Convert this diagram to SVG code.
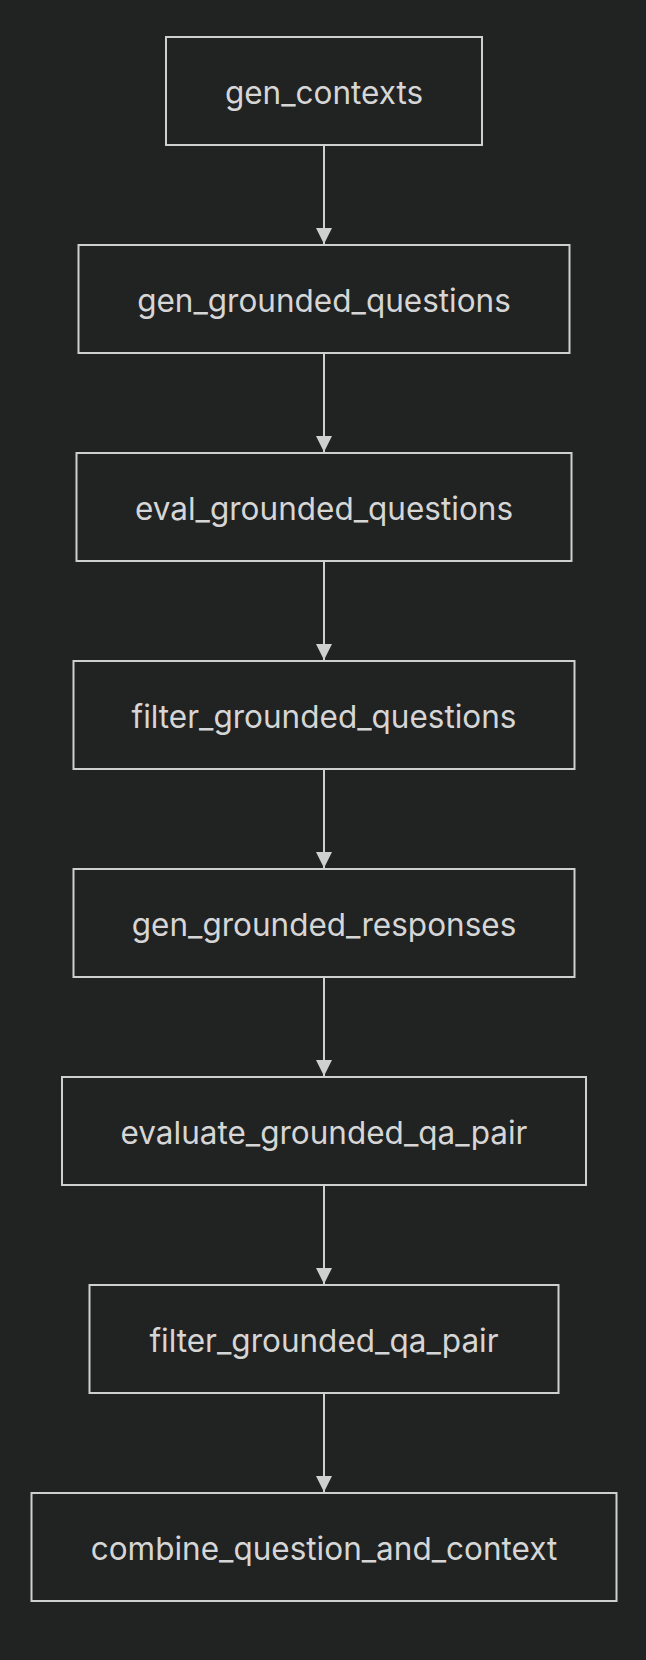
<svg xmlns="http://www.w3.org/2000/svg" width="646" height="1660" viewBox="0 0 646 1660">
<defs>
<style>
.bg{fill:#212222}
.node rect{fill:#212222;stroke:#cfcfcf;stroke-width:2}
.node text{fill:#d6d6d6;font-family:Inter,"Noto Sans",sans-serif;font-size:31.5px;text-anchor:middle}
.edge{stroke:#cfcfcf;stroke-width:2;fill:none}
</style>
<marker id="arrow" viewBox="0 0 10 10" refX="10" refY="5" markerWidth="16" markerHeight="16" markerUnits="userSpaceOnUse" orient="auto">
<path d="M0,0 L10,5 L0,10 z" fill="#cfcfcf"/>
</marker>
</defs>
<rect class="bg" x="0" y="0" width="646" height="1660"/>
<g id="connectors">
<line class="edge" x1="324" y1="145" x2="324" y2="244" marker-end="url(#arrow)"/>
<line class="edge" x1="324" y1="353" x2="324" y2="452" marker-end="url(#arrow)"/>
<line class="edge" x1="324" y1="561" x2="324" y2="660" marker-end="url(#arrow)"/>
<line class="edge" x1="324" y1="769" x2="324" y2="868" marker-end="url(#arrow)"/>
<line class="edge" x1="324" y1="977" x2="324" y2="1076" marker-end="url(#arrow)"/>
<line class="edge" x1="324" y1="1185" x2="324" y2="1284" marker-end="url(#arrow)"/>
<line class="edge" x1="324" y1="1393" x2="324" y2="1492" marker-end="url(#arrow)"/>
</g>
<g id="gen_contexts" class="node"><rect x="166" y="37" width="316" height="108"/><text x="324" y="103.5">gen_contexts</text></g>
<g id="gen_grounded_questions" class="node"><rect x="78.5" y="245" width="491" height="108"/><text x="324" y="311.5">gen_grounded_questions</text></g>
<g id="eval_grounded_questions" class="node"><rect x="76.5" y="453" width="495" height="108"/><text x="324" y="519.5">eval_grounded_questions</text></g>
<g id="filter_grounded_questions" class="node"><rect x="73.5" y="661" width="501" height="108"/><text x="324" y="727.5">filter_grounded_questions</text></g>
<g id="gen_grounded_responses" class="node"><rect x="73.5" y="869" width="501" height="108"/><text x="324" y="935.5">gen_grounded_responses</text></g>
<g id="evaluate_grounded_qa_pair" class="node"><rect x="62" y="1077" width="524" height="108"/><text x="324" y="1143.5">evaluate_grounded_qa_pair</text></g>
<g id="filter_grounded_qa_pair" class="node"><rect x="89.5" y="1285" width="469" height="108"/><text x="324" y="1351.5">filter_grounded_qa_pair</text></g>
<g id="combine_question_and_context" class="node"><rect x="31.5" y="1493" width="585" height="108"/><text x="324" y="1559.5">combine_question_and_context</text></g>
</svg>
